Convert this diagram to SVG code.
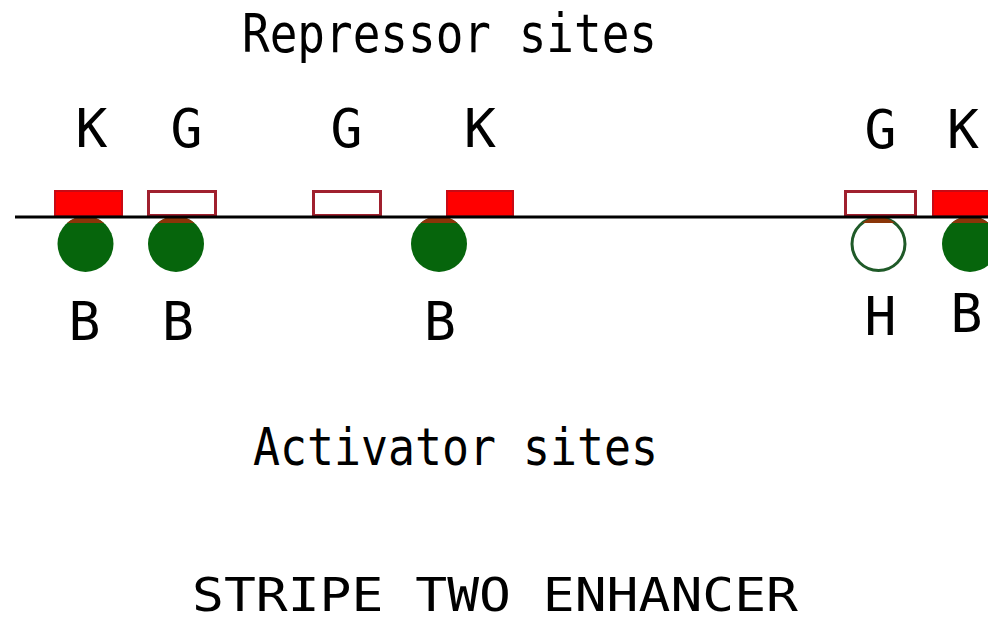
<svg xmlns="http://www.w3.org/2000/svg" width="988" height="622" viewBox="0 0 988 622">
  <style>
    .lbl { font-family: "DejaVu Sans Mono", "Liberation Mono", monospace; font-size: 53px; fill: #000; text-anchor: middle; }
    .title { font-family: "DejaVu Sans Mono", "Liberation Mono", monospace; fill: #000; }
    .rep-on { fill: #ff0000; stroke: #c80a14; stroke-width: 2; }
    .rep-off { fill: #ffffff; stroke: #a0202e; stroke-width: 3; }
    .act-on { fill: #06650c; }
    .act-off { fill: #ffffff; stroke: #1f5a28; stroke-width: 3; }
    .cap { fill: #8a3508; }
    .dna { stroke: #000; stroke-width: 3; fill: none; }
  </style>
  <rect width="988" height="622" fill="#ffffff"/>

  <text class="title" x="242" y="52" font-size="53" textLength="415" lengthAdjust="spacingAndGlyphs">Repressor sites</text>

  <!-- activator sites (below the DNA line) -->
  <g id="site-B1">
    <circle class="act-on" cx="85.5" cy="244" r="28"/>
    <path class="cap" d="M67,223 A28 28 0 0 1 104,223 Z"/>
    <text class="lbl" x="84.5" y="340">B</text>
  </g>
  <g id="site-B2">
    <circle class="act-on" cx="176" cy="244" r="28"/>
    <path class="cap" d="M157.5,223 A28 28 0 0 1 194.5,223 Z"/>
    <text class="lbl" x="178" y="340">B</text>
  </g>
  <g id="site-B3">
    <circle class="act-on" cx="439" cy="244" r="28"/>
    <path class="cap" d="M420.5,223 A28 28 0 0 1 457.5,223 Z"/>
    <text class="lbl" x="440" y="340">B</text>
  </g>
  <g id="site-H">
    <circle class="act-off" cx="878.5" cy="244" r="26.5"/>
    <path class="cap" d="M862,223 A26.5 26.5 0 0 1 895,223 Z"/>
    <text class="lbl" x="880.5" y="335">H</text>
  </g>
  <g id="site-B4">
    <circle class="act-on" cx="970" cy="244" r="28"/>
    <path class="cap" d="M951.5,223 A28 28 0 0 1 988.5,223 Z"/>
    <text class="lbl" x="966.5" y="332">B</text>
  </g>

  <!-- repressor sites (above the DNA line) -->
  <g id="site-K1">
    <rect class="rep-on" x="55" y="191" width="67" height="25"/>
    <text class="lbl" x="91.5" y="147">K</text>
  </g>
  <g id="site-G1">
    <rect class="rep-off" x="148.5" y="191.5" width="67" height="24"/>
    <text class="lbl" x="186.5" y="147">G</text>
  </g>
  <g id="site-G2">
    <rect class="rep-off" x="313.5" y="191.5" width="67" height="24"/>
    <text class="lbl" x="346.5" y="147">G</text>
  </g>
  <g id="site-K2">
    <rect class="rep-on" x="447" y="191" width="66" height="25"/>
    <text class="lbl" x="480" y="147">K</text>
  </g>
  <g id="site-G3">
    <rect class="rep-off" x="845.5" y="191.5" width="70" height="24"/>
    <text class="lbl" x="880.5" y="148">G</text>
  </g>
  <g id="site-K3">
    <rect class="rep-on" x="933" y="191" width="60" height="25"/>
    <text class="lbl" x="963" y="148">K</text>
  </g>

  <!-- enhancer DNA strand -->
  <g id="connectors">
    <line class="dna" x1="15" y1="217" x2="988" y2="217"/>
  </g>

  <text class="title" x="253" y="465" font-size="51" textLength="405" lengthAdjust="spacingAndGlyphs">Activator sites</text>
  <text class="title" x="192" y="611" font-size="46" textLength="606" lengthAdjust="spacingAndGlyphs">STRIPE TWO ENHANCER</text>
</svg>
